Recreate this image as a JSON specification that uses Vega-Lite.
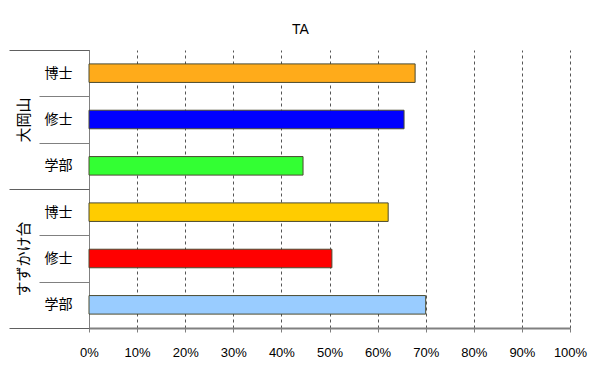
{
  "$schema": "https://vega.github.io/schema/vega-lite/v6.json",
  "width": 481,
  "height": 278,
  "autosize": {"type": "none"},
  "padding": {"left": 89, "top": 50, "right": 30, "bottom": 44},
  "background": "white",
  "title": {"text": "TA", "fontSize": 14, "fontWeight": "normal", "font": "Liberation Sans", "color": "#000", "dx": -29, "offset": 6},
  "config": {"view": {"stroke": null}},
  "data": {"values": [
    {"key": "大岡山|博士", "group": "大岡山", "level": "博士", "value": 0.678},
    {"key": "大岡山|修士", "group": "大岡山", "level": "修士", "value": 0.655},
    {"key": "大岡山|学部", "group": "大岡山", "level": "学部", "value": 0.445},
    {"key": "すずかけ台|博士", "group": "すずかけ台", "level": "博士", "value": 0.622},
    {"key": "すずかけ台|修士", "group": "すずかけ台", "level": "修士", "value": 0.505},
    {"key": "すずかけ台|学部", "group": "すずかけ台", "level": "学部", "value": 0.70}
  ]},
  "layer": [
    {
      "mark": {"type": "bar", "height": {"band": 0.4}, "stroke": "#4a4a30", "strokeWidth": 1},
      "encoding": {
        "y": {"field": "key", "type": "nominal", "sort": null,
          "scale": {"paddingInner": 0, "paddingOuter": 0},
          "axis": {"title": null, "labelExpr": "split(datum.label,'|')[1]", "tickBand": "extent", "tickSize": 50, "tickColor": "#808080", "labelPadding": -33, "labelFont": "Noto Sans CJK JP", "labelFontSize": 14, "labelColor": "#000", "domainColor": "#808080", "domainWidth": 1}},
        "x": {"field": "value", "type": "quantitative",
          "scale": {"domain": [0, 1], "nice": false},
          "axis": {"title": null, "format": "%", "values": [0,0.1,0.2,0.3,0.4,0.5,0.6,0.7,0.8,0.9,1], "labelFlush": false, "labelFont": "Liberation Sans", "labelFontSize": 13, "labelColor": "#000", "labelPadding": 14, "tickSize": 4, "tickColor": "#808080", "domainColor": "#808080", "domainWidth": 2, "grid": true, "gridDash": [3, 3], "gridColor": "#555", "gridWidth": 1}},
        "color": {"field": "key", "type": "nominal", "legend": null,
          "scale": {"domain": ["大岡山|博士","大岡山|修士","大岡山|学部","すずかけ台|博士","すずかけ台|修士","すずかけ台|学部"],
                    "range": ["#ffab1a","#0000ff","#33ff33","#ffcc00","#ff0000","#99ccff"]}}
      }
    },
    {
      "mark": {"type": "rule", "strokeOpacity": 0},
      "encoding": {
        "y": {"field": "group", "type": "nominal", "sort": null,
          "scale": {"paddingInner": 0, "paddingOuter": 0},
          "axis": {"orient": "left", "title": null, "tickBand": "extent", "tickSize": 80, "tickColor": "#606060", "domain": false, "labelAngle": -90, "labelPadding": -22, "labelFont": "Noto Sans CJK JP", "labelFontSize": 15, "labelColor": "#000"}}
      }
    }
  ],
  "resolve": {"scale": {"y": "independent", "color": "independent"}}
}
